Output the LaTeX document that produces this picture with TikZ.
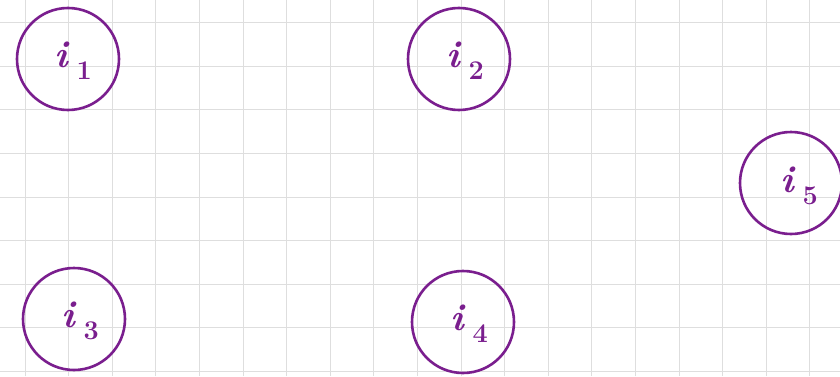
\documentclass[tikz,border=0pt]{standalone}
\usepackage{fontspec}
\newcommand{\sublab}[1]{\textit{i}\hspace{7pt}\raisebox{-12pt}{\fontsize{27}{27}\selectfont #1}}
\begin{document}
\begin{tikzpicture}[x=1pt,y=1pt,
  gridline/.style={draw=black!13,line width=0.9pt},
  ring/.style={circle,draw=pcol,line width=2.6pt,minimum size=102pt,inner sep=0pt},
  lab/.style={text=pcol,font=\fontsize{38}{38}\selectfont\bfseries}]
\definecolor{pcol}{HTML}{7A1E8E}
\useasboundingbox (0,0) rectangle (840,376);
\fill[white] (0,0) rectangle (840,376);
\foreach \k in {0,...,18} {\draw[gridline] ({25+43.6*\k},0) -- ({25+43.6*\k},376);}
\foreach \k in {0,...,8} {\draw[gridline] (0,{376-22.7-43.6*\k}) -- (840,{376-22.7-43.6*\k});}
\node[ring] (n1) at (68,317) {};
\node[ring] (n2) at (459,317) {};
\node[ring] (n3) at (74,57) {};
\node[ring] (n4) at (463,54) {};
\node[ring] (n5) at (791,193) {};
\node[lab] at ([xshift=5pt,yshift=-2pt]n1.center) {\sublab{1}};
\node[lab] at ([xshift=6pt,yshift=-2pt]n2.center) {\sublab{2}};
\node[lab] at ([xshift=6pt,yshift=-2pt]n3.center) {\sublab{3}};
\node[lab] at ([xshift=6pt,yshift=-2pt]n4.center) {\sublab{4}};
\node[lab] at ([xshift=8pt,yshift=-3pt]n5.center) {\sublab{5}};
\end{tikzpicture}
\end{document}
